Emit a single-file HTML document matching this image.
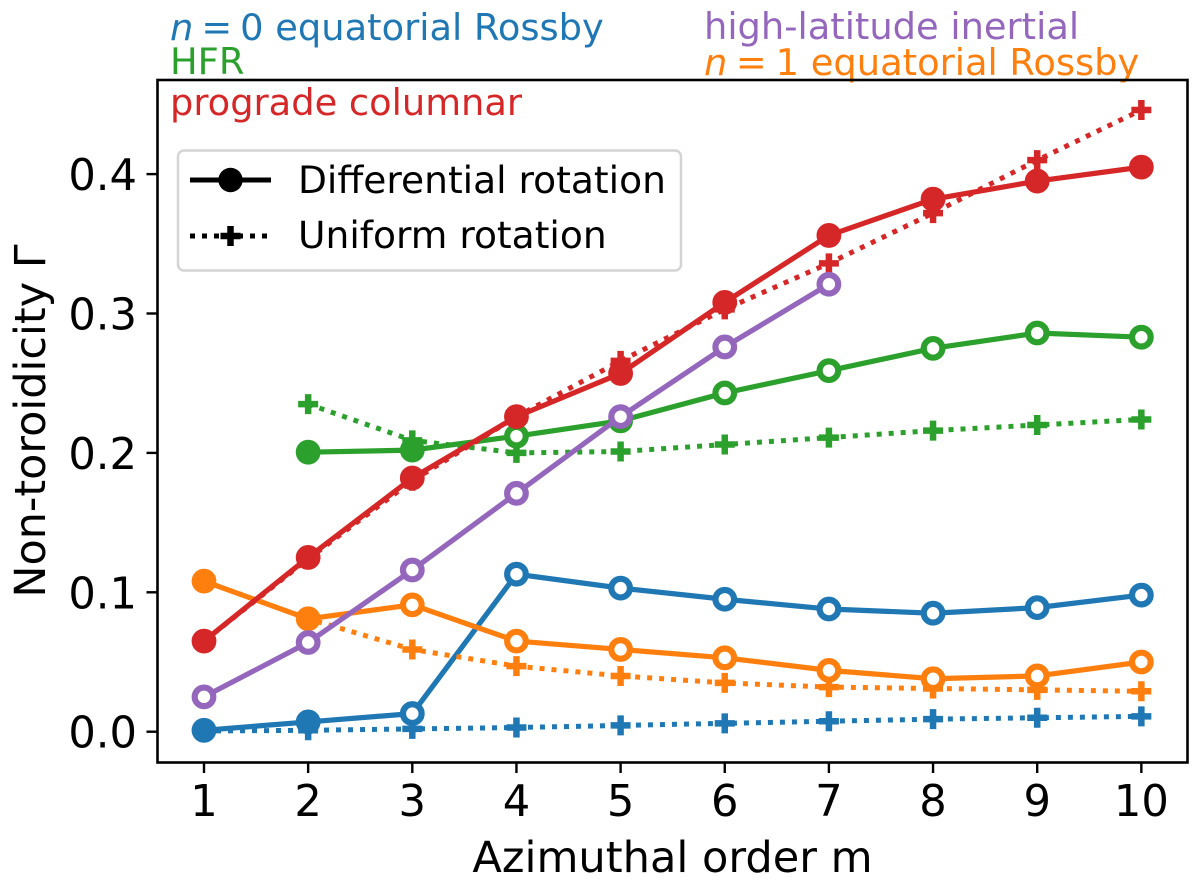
<!DOCTYPE html>
<html>
<head>
<meta charset="utf-8">
<title>Non-toroidicity vs azimuthal order</title>
<style>
html,body{margin:0;padding:0;background:#fff;width:1200px;height:883px;overflow:hidden}
svg{display:block}
text{font-family:"DejaVu Sans","Liberation Sans",sans-serif}
</style>
</head>
<body>
<svg id="chart" width="1200" height="883" viewBox="0 0 1200 883" xmlns="http://www.w3.org/2000/svg">
  <text x="170" y="40" font-size="36.8" fill="#1f77b4"><tspan font-style="italic">n</tspan><tspan dx="8">=</tspan><tspan dx="8">0 equatorial Rossby</tspan></text>
  <text x="170" y="74" font-size="36.8" fill="#2ca02c">HFR</text>
  <text x="170" y="115" font-size="36.8" fill="#d62728">prograde columnar</text>
  <text x="704" y="39" font-size="36.8" fill="#9467bd">high-latitude inertial</text>
  <text x="704" y="75" font-size="36.8" fill="#ff7f0e"><tspan font-style="italic">n</tspan><tspan dx="8.5">=</tspan><tspan dx="9">1 equatorial Rossby</tspan></text>
  <g id="ticks"></g>
  <g id="marks"></g>
  <rect x="157.5" y="80" width="1030" height="682.5" fill="none" stroke="#000" stroke-width="2.6"/>
  <text x="672.5" y="872" font-size="43.1" text-anchor="middle" fill="#000">Azimuthal order m</text>
  <text transform="translate(45,421) rotate(-90)" font-size="42.9" text-anchor="middle" fill="#000">Non-toroidicity Γ</text>
  <g>
    <rect x="178" y="150.5" width="503" height="120" rx="6" fill="#fff" fill-opacity="0.85" stroke="#d4d4d4" stroke-width="2.5"/>
    <line x1="190" y1="180" x2="271" y2="180" stroke="#000" stroke-width="5"/>
    <circle cx="230.5" cy="180" r="12.2" fill="#000"/>
    <text x="298" y="193" font-size="37.6" fill="#000">Differential rotation</text>
    <line x1="190" y1="236" x2="271" y2="236" stroke="#000" stroke-width="5" stroke-dasharray="5 7"/>
    <path d="M220.5 236h20M230.5 226v20" stroke="#000" stroke-width="6.5" fill="none"/>
    <text x="298" y="248" font-size="37.6" fill="#000">Uniform rotation</text>
  </g>
</svg>
<script>
const xTickValues = [1, 2, 3, 4, 5, 6, 7, 8, 9, 10];
const yTickValues = [0, 0.1, 0.2, 0.3, 0.4];
const yTickLabels = ['0.0', '0.1', '0.2', '0.3', '0.4'];

const blueDiffM = [1, 2, 3, 4, 5, 6, 7, 8, 9, 10];
const blueDiff = [0.001, 0.007, 0.013, 0.113, 0.103, 0.095, 0.088, 0.085, 0.089, 0.098];
const blueDiffFilled = [1, 1, 0, 0, 0, 0, 0, 0, 0, 0];
const blueUnifM = [1, 2, 3, 4, 5, 6, 7, 8, 9, 10];
const blueUnif = [0.0005, 0.001, 0.002, 0.003, 0.0045, 0.006, 0.0075, 0.009, 0.01, 0.011];

const orangeDiffM = [1, 2, 3, 4, 5, 6, 7, 8, 9, 10];
const orangeDiff = [0.108, 0.081, 0.091, 0.065, 0.059, 0.053, 0.044, 0.038, 0.04, 0.05];
const orangeDiffFilled = [1, 1, 0, 0, 0, 0, 0, 0, 0, 0];
const orangeUnifM = [1, 2, 3, 4, 5, 6, 7, 8, 9, 10];
const orangeUnif = [0.108, 0.081, 0.059, 0.047, 0.04, 0.035, 0.032, 0.031, 0.03, 0.029];

const greenDiffM = [2, 3, 4, 5, 6, 7, 8, 9, 10];
const greenDiff = [0.2005, 0.202, 0.212, 0.223, 0.243, 0.259, 0.275, 0.286, 0.283];
const greenDiffFilled = [1, 1, 0, 0, 0, 0, 0, 0, 0];
const greenUnifM = [2, 3, 4, 5, 6, 7, 8, 9, 10];
const greenUnif = [0.235, 0.209, 0.2, 0.201, 0.206, 0.211, 0.216, 0.22, 0.224];

const redDiffM = [1, 2, 3, 4, 5, 6, 7, 8, 9, 10];
const redDiff = [0.065, 0.125, 0.182, 0.226, 0.257, 0.308, 0.356, 0.382, 0.395, 0.405];
const redDiffFilled = [1, 1, 1, 1, 1, 1, 1, 1, 1, 1];
const redUnifM = [1, 2, 3, 4, 5, 6, 7, 8, 9, 10];
const redUnif = [0.065, 0.124, 0.18, 0.226, 0.266, 0.303, 0.336, 0.372, 0.41, 0.446];

const purpleDiffM = [1, 2, 3, 4, 5, 6, 7];
const purpleDiff = [0.025, 0.064, 0.116, 0.171, 0.226, 0.276, 0.321];
const purpleDiffFilled = [0, 0, 0, 0, 0, 0, 0];

const NS = 'http://www.w3.org/2000/svg';
const marks = document.getElementById('marks');
const ticks = document.getElementById('ticks');

function xScale(m) { return 204 + (m - 1) * 104.15; }
function yScale(v) { return 731.7 - v * 1394; }

function make(tag, attrs, parent) {
  const el = document.createElementNS(NS, tag);
  Object.keys(attrs).forEach(function (k) { el.setAttribute(k, attrs[k]); });
  parent.appendChild(el);
  return el;
}

xTickValues.forEach(function (t) {
  const px = xScale(t);
  const tick = make('line', { x1: px, x2: px, y1: 762.5, y2: 773, stroke: '#000', 'stroke-width': 2.4 }, ticks);
  
  
  const label = make('text', { x: px, y: 816, 'font-size': 43.2, 'text-anchor': 'middle', fill: '#000' }, ticks);
  label.textContent = String(t);
  
  
});

yTickValues.forEach(function (t, i) {
  const py = yScale(t);
  const tick = make('line', { x1: 146.5, x2: 157.5, y1: py, y2: py, stroke: '#000', 'stroke-width': 2.4 }, ticks);
  
  
  const label = make('text', { x: 137, y: py + 16, 'font-size': 43.2, 'text-anchor': 'end', fill: '#000' }, ticks);
  label.textContent = yTickLabels[i];
  
  
});

function points(ms, vals) {
  return ms.map(function (m, i) { return xScale(m) + ',' + yScale(vals[i]); }).join(' ');
}

function drawUniform(key, color, ms, vals) {
  const line = make('polyline', { points: points(ms, vals), fill: 'none', stroke: color, 'stroke-width': 5, 'stroke-dasharray': '5 7' }, marks);
  
  
  ms.forEach(function (m, i) {
    const px = xScale(m), py = yScale(vals[i]);
    const d = 'M' + (px - 10) + ' ' + py + 'h20M' + px + ' ' + (py - 10) + 'v20';
    const plus = make('path', { d: d, fill: 'none', stroke: color, 'stroke-width': 6.5 }, marks);
    
    
  });
}

function drawDifferential(key, color, ms, vals, filled) {
  const line = make('polyline', { points: points(ms, vals), fill: 'none', stroke: color, 'stroke-width': 5.2 }, marks);
  
  
  ms.forEach(function (m, i) {
    const c = make('circle', {
      cx: xScale(m), cy: yScale(vals[i]), r: 9.3,
      fill: filled[i] ? color : '#fff', stroke: color, 'stroke-width': 6.2
    }, marks);
    
    
  });
}

drawUniform('blue', '#1f77b4', blueUnifM, blueUnif);
drawDifferential('blue', '#1f77b4', blueDiffM, blueDiff, blueDiffFilled);
drawUniform('orange', '#ff7f0e', orangeUnifM, orangeUnif);
drawDifferential('orange', '#ff7f0e', orangeDiffM, orangeDiff, orangeDiffFilled);
drawUniform('green', '#2ca02c', greenUnifM, greenUnif);
drawDifferential('green', '#2ca02c', greenDiffM, greenDiff, greenDiffFilled);
drawUniform('red', '#d62728', redUnifM, redUnif);
drawDifferential('red', '#d62728', redDiffM, redDiff, redDiffFilled);
drawDifferential('purple', '#9467bd', purpleDiffM, purpleDiff, purpleDiffFilled);
</script>
</body>
</html>
